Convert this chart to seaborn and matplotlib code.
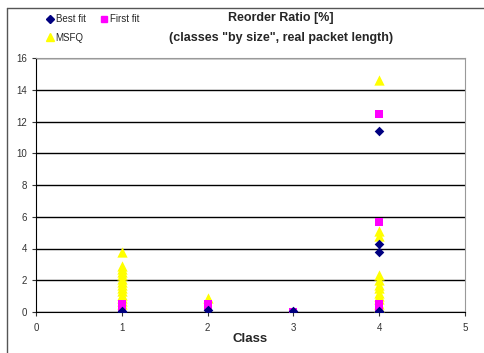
import pandas as pd
import matplotlib.pyplot as plt
import seaborn as sns
from matplotlib.lines import Line2D

# values
msfq_class = [1]*14 + [2] + [4]*12
msfq_val = [3.8, 2.9, 2.7, 2.5, 2.3, 2.1, 1.9, 1.7, 1.5, 1.3, 1.1, 0.9, 0.7, 0.5,
            0.9,
            14.6, 5.1, 4.8, 2.3, 2.0, 1.7, 1.5, 1.2, 1.0, 0.8, 0.5, 0.3]
first_class = [1, 1, 2, 2, 3, 4, 4, 4, 4]
first_val = [0.5, 0.3, 0.5, 0.35, 0.0, 12.5, 5.7, 0.5, 0.3]
best_class = [1, 1, 2, 3, 4, 4, 4, 4, 4]
best_val = [0.05, 0.0, 0.1, 0.05, 11.4, 4.3, 3.8, 0.05, 0.0]

df_m = pd.DataFrame({'Class': msfq_class, 'Ratio': msfq_val})
df_f = pd.DataFrame({'Class': first_class, 'Ratio': first_val})
df_b = pd.DataFrame({'Class': best_class, 'Ratio': best_val})

sns.set_style("white")
plt.rcParams['font.family'] = ['Liberation Sans', 'DejaVu Sans']

fig = plt.figure(figsize=(4.84, 3.53), dpi=100)
ax = fig.add_axes([36/484, 41/353, 429/484, 254/353])

sns.scatterplot(x='Class', y='Ratio', data=df_m, marker='^', color='#FFFF00', s=55, edgecolor='#FFFF00', linewidth=0, ax=ax, zorder=3)
sns.scatterplot(x='Class', y='Ratio', data=df_f, marker='s', color='#FF00FF', s=32, edgecolor='#FF00FF', linewidth=0, ax=ax, zorder=4)
sns.scatterplot(x='Class', y='Ratio', data=df_b, marker='D', color='#000080', s=24, edgecolor='#000080', linewidth=0, ax=ax, zorder=5)

ax.set_xlim(0, 5)
ax.set_ylim(0, 16)
ax.set_xticks(range(0, 6))
ax.set_yticks(range(0, 17, 2))
ax.yaxis.grid(True, color='black', linewidth=1)
ax.set_axisbelow(True)
ax.tick_params(axis='both', labelsize=7, length=3, direction='out', left=True, bottom=True, colors='#333333')
ax.tick_params(axis='x', pad=5)
for s in ['top', 'right']:
    ax.spines[s].set_color('#999999')
ax.spines['left'].set_color('black')
ax.spines['bottom'].set_color('black')
ax.set_ylabel('')
ax.set_xlabel('Class', fontsize=9.5, fontweight='bold', labelpad=0)

fig.text(0.58, 0.950, 'Reorder Ratio [%]', ha='center', va='center', fontsize=9, fontweight='bold')
fig.text(0.58, 0.893, '(classes "by size", real packet length)', ha='center', va='center', fontsize=9, fontweight='bold')

handles = [
    Line2D([], [], marker='D', color='#000080', linestyle='', markersize=4),
    Line2D([], [], marker='^', color='#FFFF00', linestyle='', markersize=6),
    Line2D([], [], marker='s', color='#FF00FF', linestyle='', markersize=5),
]
fig.legend(handles, ['Best fit', 'MSFQ', 'First fit'], ncol=2, loc='upper left',
           bbox_to_anchor=(0.075, 0.985), frameon=False, fontsize=7,
           handletextpad=0.1, columnspacing=1.4, labelspacing=0.9, handlelength=1)

# outer chart frame (only top and left visible)
fig.add_artist(Line2D([7/484, 1], [1-8/353, 1-8/353], color='#555555', linewidth=1, transform=fig.transFigure))
fig.add_artist(Line2D([7/484, 7/484], [0, 1-8/353], color='#555555', linewidth=1, transform=fig.transFigure))

plt.savefig('out.png', dpi=100)
